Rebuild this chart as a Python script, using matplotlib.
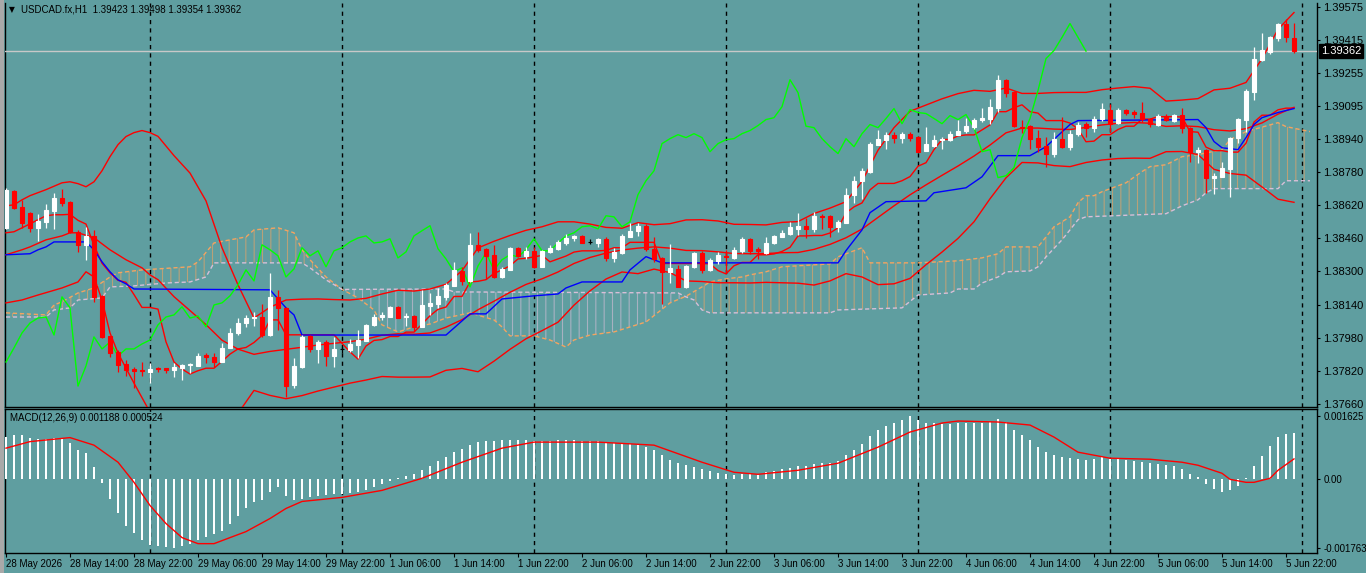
import numpy as np
import matplotlib
matplotlib.use('Agg')
import matplotlib.pyplot as plt
from matplotlib.patches import Polygon, Rectangle
from matplotlib.transforms import blended_transform_factory

# ---------------- data ----------------
opens = [1.38510,1.38689,1.38612,1.38583,1.38510,1.38539,1.38592,1.38655,1.38636,1.38491,
         1.38428,1.38471,1.38182,1.37989,1.37911,1.37853,1.37829,1.37824,1.37815,1.37834,
         1.37834,1.37824,1.37834,1.37848,1.37844,1.37897,1.37887,1.37863,1.37931,1.38003,
         1.38051,1.38075,1.38080,1.37993,1.38177,1.38124,1.37752,1.37839,1.37989,1.37926,
         1.37959,1.37892,1.37926,1.37921,1.37945,1.37964,1.38042,1.38080,1.38080,1.38129,
         1.38080,1.38085,1.38032,1.38133,1.38143,1.38177,1.38230,1.38302,1.38254,1.38428,
         1.38409,1.38380,1.38273,1.38307,1.38414,1.38375,1.38399,1.38322,1.38394,1.38409,
         1.38437,1.38461,1.38471,1.38442,1.38437,1.38457,1.38365,1.38389,1.38466,1.38496,
         1.38520,1.38409,1.38365,1.38298,1.38312,1.38225,1.38322,1.38389,1.38307,1.38351,
         1.38375,1.38365,1.38399,1.38457,1.38409,1.38389,1.38437,1.38466,1.38481,1.38505,
         1.38520,1.38505,1.38568,1.38568,1.38515,1.38534,1.38670,1.38737,1.38781,1.38911,
         1.38935,1.38959,1.38945,1.38964,1.38950,1.38882,1.38906,1.38935,1.38935,1.38959,
         1.38979,1.38998,1.39032,1.39037,1.39090,1.39224,1.39167,1.38998,1.39003,1.38945,
         1.38906,1.38868,1.38940,1.38901,1.38964,1.39012,1.38993,1.39037,1.39080,1.39017,
         1.39080,1.39070,1.39066,1.39037,1.39008,1.39051,1.39027,1.39056,1.38993,1.38877,
         1.38887,1.38752,1.38756,1.38795,1.38945,1.39032,1.39167,1.39321,1.39360,1.39423,
         1.39495,1.39423]
highs = [1.38703,1.38694,1.38645,1.38587,1.38578,1.38626,1.38679,1.38699,1.38638,1.38500,
         1.38515,1.38500,1.38184,1.37990,1.37921,1.37873,1.37839,1.37863,1.37858,1.37839,
         1.37836,1.37858,1.37853,1.37858,1.37906,1.37906,1.37906,1.37955,1.38027,1.38075,
         1.38090,1.38104,1.38143,1.38293,1.38211,1.38130,1.37882,1.37993,1.37993,1.37969,
         1.37969,1.37984,1.37935,1.37974,1.38017,1.38046,1.38095,1.38104,1.38133,1.38133,
         1.38100,1.38090,1.38211,1.38196,1.38220,1.38244,1.38346,1.38322,1.38486,1.38491,
         1.38414,1.38428,1.38322,1.38416,1.38418,1.38418,1.38418,1.38404,1.38428,1.38452,
         1.38481,1.38476,1.38473,1.38457,1.38459,1.38466,1.38414,1.38481,1.38534,1.38534,
         1.38529,1.38466,1.38370,1.38433,1.38331,1.38331,1.38394,1.38399,1.38365,1.38394,
         1.38404,1.38418,1.38466,1.38461,1.38418,1.38466,1.38476,1.38500,1.38539,1.38583,
         1.38558,1.38587,1.38578,1.38570,1.38549,1.38703,1.38761,1.38800,1.38926,1.38983,
         1.38974,1.38974,1.38974,1.38974,1.38952,1.38998,1.38959,1.38950,1.38979,1.39032,
         1.39041,1.39041,1.39090,1.39133,1.39249,1.39226,1.39169,1.39032,1.39008,1.38983,
         1.38950,1.38974,1.39046,1.38983,1.39022,1.39022,1.39051,1.39114,1.39109,1.39090,
         1.39085,1.39080,1.39119,1.39041,1.39061,1.39061,1.39061,1.39090,1.38995,1.38901,
         1.38892,1.38776,1.38829,1.38950,1.39041,1.39177,1.39380,1.39447,1.39433,1.39497,
         1.39515,1.39498]
lows = [1.38505,1.38602,1.38510,1.38491,1.38447,1.38510,1.38505,1.38616,1.38486,1.38394,
        1.38356,1.38153,1.37979,1.37887,1.37815,1.37795,1.37737,1.37795,1.37761,1.37815,
        1.37810,1.37790,1.37776,1.37810,1.37842,1.37858,1.37839,1.37861,1.37929,1.37993,
        1.38032,1.38036,1.37984,1.37989,1.38017,1.37694,1.37737,1.37834,1.37911,1.37858,
        1.37844,1.37839,1.37906,1.37911,1.37882,1.37962,1.38037,1.38066,1.38078,1.38073,
        1.38037,1.38013,1.38030,1.38090,1.38124,1.38162,1.38228,1.38235,1.38249,1.38394,
        1.38264,1.38270,1.38268,1.38305,1.38371,1.38360,1.38317,1.38320,1.38389,1.38404,
        1.38428,1.38447,1.38435,1.38433,1.38418,1.38351,1.38346,1.38384,1.38464,1.38471,
        1.38399,1.38346,1.38143,1.38244,1.38223,1.38220,1.38317,1.38293,1.38302,1.38336,
        1.38293,1.38360,1.38389,1.38384,1.38360,1.38384,1.38433,1.38464,1.38476,1.38476,
        1.38461,1.38491,1.38505,1.38466,1.38491,1.38532,1.38631,1.38650,1.38776,1.38909,
        1.38892,1.38921,1.38921,1.38930,1.38875,1.38880,1.38901,1.38892,1.38930,1.38957,
        1.38969,1.38988,1.39022,1.39012,1.39070,1.39143,1.38996,1.38969,1.38892,1.38877,
        1.38805,1.38853,1.38896,1.38887,1.38954,1.38950,1.38974,1.39027,1.38974,1.39012,
        1.39056,1.39041,1.39022,1.38998,1.39003,1.39027,1.39022,1.38969,1.38829,1.38824,
        1.38679,1.38674,1.38754,1.38660,1.38921,1.38974,1.39124,1.39312,1.39346,1.39413,
        1.39404,1.39354]
closes = [1.38694,1.38607,1.38534,1.38510,1.38544,1.38597,1.38655,1.38631,1.38491,1.38428,
          1.38471,1.38177,1.37984,1.37906,1.37848,1.37824,1.37820,1.37820,1.37829,1.37829,
          1.37824,1.37839,1.37848,1.37853,1.37892,1.37887,1.37863,1.37931,1.38003,1.38051,
          1.38075,1.38080,1.37993,1.38177,1.38124,1.37747,1.37844,1.37984,1.37926,1.37959,
          1.37892,1.37926,1.37926,1.37950,1.37969,1.38042,1.38080,1.38090,1.38129,1.38075,
          1.38085,1.38032,1.38138,1.38148,1.38182,1.38235,1.38307,1.38254,1.38428,1.38404,
          1.38375,1.38273,1.38312,1.38414,1.38375,1.38399,1.38322,1.38399,1.38414,1.38442,
          1.38461,1.38471,1.38437,1.38442,1.38457,1.38365,1.38394,1.38471,1.38496,1.38520,
          1.38409,1.38360,1.38298,1.38317,1.38225,1.38326,1.38389,1.38307,1.38356,1.38380,
          1.38370,1.38404,1.38457,1.38399,1.38399,1.38437,1.38471,1.38486,1.38515,1.38520,
          1.38505,1.38568,1.38563,1.38515,1.38539,1.38670,1.38737,1.38785,1.38916,1.38940,
          1.38959,1.38945,1.38964,1.38945,1.38877,1.38916,1.38935,1.38940,1.38964,1.38979,
          1.39003,1.39032,1.39041,1.39094,1.39224,1.39162,1.39000,1.38993,1.38940,1.38901,
          1.38868,1.38940,1.38901,1.38964,1.39008,1.38993,1.39037,1.39085,1.39012,1.39080,
          1.39066,1.39061,1.39037,1.39012,1.39051,1.39032,1.39056,1.38993,1.38877,1.38887,
          1.38752,1.38761,1.38800,1.38945,1.39037,1.39172,1.39326,1.39365,1.39428,1.39495,
          1.39428,1.39362]

# Bollinger bands (red), read at the bars listed
band_up_bars = [0, 1, 2, 3, 5, 7, 8, 9, 10, 11, 12, 13, 14, 15, 16, 17, 18] + list(range(19, 162, 2))
band_up_vals = [1.38616,1.38621,1.38645,1.38665,1.38694,1.38727,1.38732,1.38723,1.38708,1.38732,
                1.38785,1.38853,1.38911,1.38950,1.38969,1.38979,1.38969,
                1.38951,1.38858,1.38774,1.38640,1.38414,1.38235,1.38075,1.38127,1.38162,1.38166,
                1.38167,1.38164,1.38162,1.38170,1.38191,1.38209,1.38205,1.38215,1.38238,1.38303,
                1.38413,1.38445,1.38473,1.38498,1.38515,1.38539,1.38539,1.38528,1.38512,1.38508,
                1.38535,1.38525,1.38530,1.38548,1.38549,1.38543,1.38527,1.38526,1.38524,1.38536,
                1.38540,1.38579,1.38605,1.38636,1.38734,1.38884,1.38993,1.39072,1.39102,1.39132,
                1.39157,1.39173,1.39168,1.39184,1.39158,1.39158,1.39162,1.39163,1.39163,1.39176,
                1.39184,1.39191,1.39183,1.39121,1.39126,1.39133,1.39175,1.39183,1.39211,1.39325,
                1.39467,1.39548]
band_mid_bars = [0, 2, 3, 5, 7, 8, 9, 11, 13, 15, 17, 18] + list(range(19, 162, 2))
band_mid_vals = [1.38380,1.38404,1.38418,1.38452,1.38471,1.38486,1.38486,1.38462,1.38404,1.38356,
                 1.38317,1.38283,
                 1.38260,1.38178,1.38111,1.38043,1.37968,1.37925,1.37900,1.37914,1.37924,1.37934,
                 1.37945,1.37953,1.37961,1.37973,1.37992,1.37999,1.37997,1.38003,1.38031,1.38067,
                 1.38115,1.38156,1.38199,1.38237,1.38264,1.38297,1.38338,1.38367,1.38388,1.38403,
                 1.38412,1.38418,1.38412,1.38401,1.38400,1.38394,1.38386,1.38385,1.38386,1.38390,
                 1.38391,1.38406,1.38430,1.38462,1.38504,1.38560,1.38616,1.38669,1.38717,1.38763,
                 1.38808,1.38856,1.38909,1.38968,1.38991,1.38991,1.38986,1.38984,1.38994,1.39006,
                 1.39014,1.39018,1.39014,1.38999,1.39002,1.38998,1.38983,1.38977,1.38988,1.39016,
                 1.39058,1.39091]
band_lo_bars = [0, 2, 4, 7, 9, 10, 11, 12, 13, 14, 16, 18] + list(range(19, 162, 2))
band_lo_vals = [1.38148,1.38162,1.38186,1.38220,1.38249,1.38298,1.38273,1.38162,1.38003,1.37906,
                1.37761,1.37621,
                1.37569,1.37498,1.37448,1.37446,1.37523,1.37615,1.37726,1.37702,1.37686,1.37701,
                1.37723,1.37742,1.37761,1.37776,1.37793,1.37790,1.37790,1.37791,1.37823,1.37832,
                1.37816,1.37867,1.37924,1.37975,1.38014,1.38055,1.38137,1.38206,1.38263,1.38297,
                1.38289,1.38311,1.38294,1.38254,1.38251,1.38245,1.38245,1.38244,1.38247,1.38245,
                1.38243,1.38234,1.38254,1.38289,1.38273,1.38236,1.38240,1.38266,1.38332,1.38393,
                1.38459,1.38539,1.38650,1.38751,1.38825,1.38823,1.38810,1.38805,1.38825,1.38837,
                1.38844,1.38846,1.38845,1.38877,1.38878,1.38863,1.38792,1.38772,1.38764,1.38707,
                1.38648,1.38633]

# Tenkan-sen (red): value from each listed bar until the next listed bar
tenkan_bars = [0,1,2,3,4,5,6,7,8,9,
               10,11,12,13,14,15,16,17,19,20,
               21,22,23,24,25,27,28,29,30,31,
               32,33,35,42,43,44,45,46,47,48,
               50,52,53,54,55,56,58,59,60,61,
               62,63,64,65,66,67,68,69,70,71,
               72,75,76,78,82,88,89,90,91,92,
               94,96,97,98,99,101,103,104,105,106,
               107,108,109,112,113,114,115,116,117,119,
               120,122,123,124,126,127,128,129,130,133,
               134,135,136,137,139,140,142,144,147,148,
               149,150,151,153,155,156,157,159,160]
tenkan_vals = [1.38486,1.38491,1.38510,1.38529,1.38549,1.38568,1.38573,1.38573,1.38575,1.38546,
               1.38528,1.38426,1.38339,1.38293,1.38257,1.38247,1.38188,1.38126,1.38118,1.37960,
               1.37863,1.37829,1.37805,1.37821,1.37833,1.37866,1.37901,1.37926,1.37933,1.37957,
               1.37991,1.38066,1.37994,1.37953,1.37912,1.37877,1.37940,1.37967,1.37971,1.37986,
               1.38007,1.38046,1.38086,1.38117,1.38128,1.38179,1.38249,1.38252,1.38260,1.38290,
               1.38307,1.38327,1.38360,1.38363,1.38370,1.38377,1.38346,1.38360,1.38374,1.38393,
               1.38399,1.38401,1.38414,1.38440,1.38338,1.38336,1.38304,1.38288,1.38327,1.38343,
               1.38380,1.38384,1.38396,1.38416,1.38471,1.38473,1.38485,1.38510,1.38582,1.38611,
               1.38630,1.38693,1.38724,1.38737,1.38757,1.38807,1.38824,1.38887,1.38936,1.38953,
               1.38958,1.38982,1.39006,1.39070,1.39089,1.39103,1.39070,1.39063,1.39027,1.39015,
               1.38987,1.38925,1.38928,1.38959,1.38984,1.39000,1.39034,1.39046,1.39044,1.38974,
               1.38971,1.38899,1.38882,1.38875,1.38918,1.39020,1.39053,1.39079,1.39087]

# Kijun-sen (blue)
kijun_bars = [0,3,4,5,6,10,11,12,13,14,15,16,33,35,36,37,55,58,60,62,66,69,70,72,77,78,80,82,
              104,105,107,108,110,115,116,120,122,124,128,130,133,134,149,150,151,152,154,155,
              156,157,159,161]
kijun_vals = [1.38380,1.38385,1.38404,1.38418,1.38442,1.38442,1.38404,1.38346,1.38298,1.38259,
              1.38240,1.38215,1.38211,1.38124,1.38090,1.37993,1.37993,1.38095,1.38095,1.38167,
              1.38182,1.38191,1.38220,1.38249,1.38249,1.38307,1.38371,1.38341,1.38341,1.38400,
              1.38500,1.38583,1.38636,1.38640,1.38679,1.38703,1.38756,1.38858,1.38858,1.38901,
              1.39008,1.39027,1.39032,1.38993,1.38926,1.38896,1.38887,1.38945,1.39008,1.39041,
              1.39066,1.39085]

# Chikou span (lime): the closes drawn 26 bars back
chikou = closes[26:]

# Senkou spans (cloud), drawn 26 bars ahead
spanA_bars = [0,5,6,7,9,11,13,14,17,23,24,26,28,30,31,34,36,37,38,40,42,44,46,47,49,51,53,55,
              58,61,62,63,66,68,70,71,73,76,78,80,83,85,87,88,90,92,93,95,97,99,103,104,107,108,
              114,119,122,124,125,129,130,131,133,134,135,136,137,140,142,143,145,147,149,152,
              153,155,159,160,163]
spanA_vals = [1.38100,1.38090,1.38138,1.38153,1.38196,1.38220,1.38273,1.38293,1.38307,1.38322,
              1.38346,1.38437,1.38452,1.38466,1.38500,1.38510,1.38486,1.38404,1.38356,1.38273,
              1.38213,1.38172,1.38114,1.38042,1.38008,1.38032,1.38046,1.38075,1.38100,1.38066,
              1.38032,1.37989,1.37989,1.37969,1.37935,1.37969,1.37993,1.38008,1.38032,1.38056,
              1.38148,1.38180,1.38225,1.38249,1.38264,1.38273,1.38283,1.38298,1.38322,1.38327,
              1.38336,1.38370,1.38414,1.38341,1.38341,1.38351,1.38365,1.38385,1.38418,1.38418,
              1.38466,1.38515,1.38563,1.38631,1.38665,1.38665,1.38684,1.38727,1.38781,1.38805,
              1.38814,1.38853,1.38863,1.38887,1.38935,1.38974,1.39017,1.38998,1.38974]
spanB_bars = [0,5,6,8,9,12,13,16,20,23,25,26,37,38,40,42,55,56,84,85,86,87,88,103,104,112,114,
              118,119,121,122,124,125,128,129,130,132,133,134,135,145,146,147,149,150,151,159,
              160,163]
spanB_vals = [1.38080,1.38080,1.38114,1.38124,1.38162,1.38172,1.38225,1.38230,1.38244,1.38249,
              1.38273,1.38341,1.38341,1.38317,1.38259,1.38213,1.38215,1.38201,1.38196,1.38177,
              1.38162,1.38114,1.38100,1.38100,1.38114,1.38124,1.38186,1.38196,1.38215,1.38215,
              1.38244,1.38273,1.38298,1.38302,1.38322,1.38370,1.38452,1.38500,1.38549,1.38563,
              1.38578,1.38597,1.38616,1.38645,1.38679,1.38699,1.38699,1.38737,1.38737]

macd_main = [0.001091,0.001135,0.001135,0.001066,0.001032,0.001032,0.001066,0.001032,0.000937,0.000748,
             0.000663,0.000317,-0.000095,-0.000516,-0.000869,-0.001187,-0.001385,-0.001556,-0.001677,-0.001721,
             -0.001747,-0.001763,-0.001721,-0.001659,-0.001556,-0.001489,-0.001401,-0.001316,-0.001143,-0.000929,
             -0.000740,-0.000586,-0.000542,-0.000328,-0.000199,-0.000431,-0.000542,-0.000516,-0.000464,-0.000439,
             -0.000413,-0.000387,-0.000387,-0.000361,-0.000335,-0.000284,-0.000206,-0.000129,-0.000052,0.000026,
             0.000077,0.000129,0.000232,0.000335,0.000464,0.000568,0.000697,0.000774,0.000877,0.000955,
             0.000980,0.000980,0.001006,0.001006,0.001006,0.001006,0.000980,0.000980,0.000980,0.001006,
             0.001006,0.001006,0.000980,0.000980,0.000980,0.000929,0.000929,0.000929,0.000903,0.000877,
             0.000826,0.000748,0.000619,0.000490,0.000413,0.000361,0.000310,0.000258,0.000206,0.000155,
             0.000129,0.000103,0.000129,0.000129,0.000129,0.000181,0.000206,0.000258,0.000284,0.000335,
             0.000335,0.000387,0.000413,0.000413,0.000464,0.000619,0.000748,0.000903,0.001109,0.001264,
             0.001367,0.001445,0.001522,0.001625,0.001522,0.001445,0.001445,0.001419,0.001419,0.001445,
             0.001445,0.001445,0.001445,0.001471,0.001548,0.001471,0.001264,0.001135,0.001006,0.000826,
             0.000697,0.000619,0.000568,0.000542,0.000516,0.000490,0.000516,0.000568,0.000516,0.000516,
             0.000490,0.000464,0.000439,0.000413,0.000387,0.000361,0.000335,0.000258,0.000129,0.000052,
             -0.000129,-0.000258,-0.000335,-0.000284,-0.000181,0.000026,0.000335,0.000593,0.000851,0.001080,
             0.001160,0.001188]
signal_bars = [0,3,8,11,14,16,18,20,22,24,26,28,30,33,35,37,42,47,52,57,62,66,74,81,87,91,94,99,
               104,109,113,117,119,124,128,131,134,138,143,147,149,152,153,155,156,158,159,161]
signal_vals = [0.000800,0.000968,0.001071,0.000877,0.000439,-0.000077,-0.000671,-0.001135,-0.001496,
               -0.001651,-0.001651,-0.001496,-0.001342,-0.001006,-0.000748,-0.000568,-0.000464,-0.000284,
               0.000026,0.000439,0.000800,0.000955,0.000955,0.000877,0.000439,0.000181,0.000129,0.000232,
               0.000413,0.000826,0.001213,0.001445,0.001496,0.001471,0.001393,0.001084,0.000697,0.000542,
               0.000516,0.000439,0.000361,0.000155,0.000000,-0.000077,-0.000077,0.000026,0.000232,0.000524]

tick_bars = list(range(0, 161, 8))
tick_labels = ['28 May 2026', '28 May 14:00', '28 May 22:00', '29 May 06:00', '29 May 14:00',
               '29 May 22:00', '1 Jun 06:00', '1 Jun 14:00', '1 Jun 22:00', '2 Jun 06:00',
               '2 Jun 14:00', '2 Jun 22:00', '3 Jun 06:00', '3 Jun 14:00', '3 Jun 22:00',
               '4 Jun 06:00', '4 Jun 14:00', '4 Jun 22:00', '5 Jun 06:00', '5 Jun 14:00',
               '5 Jun 22:00']
separator_bars = [18, 42, 66, 90, 114, 138, 162]
price_ticks = [1.39575, 1.39415, 1.39255, 1.39095, 1.38940, 1.38780, 1.38620,
               1.38460, 1.38300, 1.38140, 1.37980, 1.37820, 1.37660]
macd_ticks = [0.001625, 0.0, -0.001763]
macd_tick_labels = ['0.001625', '0.00', '-0.001763']
last_price = 1.39362
symbol_text = 'USDCAD.fx,H1  1.39423 1.39498 1.39354 1.39362'
macd_title = 'MACD(12,26,9) 0.001188 0.000524'

# ---------------- figure ----------------
W, H = 1366, 573
BG = '#5F9EA0'
plt.rcParams['font.family'] = ['Liberation Sans', 'DejaVu Sans']
plt.rcParams['hatch.linewidth'] = 0.8
fig = plt.figure(figsize=(W / 100, H / 100), dpi=100)
fig.patch.set_facecolor(BG)

def fx(px):
    return px / W

def fy(py):
    return 1 - py / H

fig.add_artist(Rectangle((0, 0), fx(4), 1, transform=fig.transFigure,
                         facecolor='#A9A9A9', edgecolor='none'))

PLOT_W = 1312
ax = fig.add_axes([fx(5), fy(407), PLOT_W / W, 404 / H])
ax2 = fig.add_axes([fx(5), fy(553), PLOT_W / W, 144 / H])
for a in (ax, ax2):
    a.set_facecolor(BG)
    a.set_xlim(-0.125, (1317 - 6) / 8)
    for s in a.spines.values():
        s.set_color('black')
        s.set_linewidth(1.0)
    a.yaxis.tick_right()
    a.tick_params(axis='y', direction='out', length=2.5, width=0.8, colors='black', pad=2)
    for b in separator_bars:
        a.axvline(b, color='black', lw=1.0, ls=(0, (3, 3)), zorder=1)
ax.spines['top'].set_visible(False)

ax.set_ylim(1.37646, 1.39594)
ax.set_yticks(price_ticks)
ax.set_yticklabels(['%.5f' % v for v in price_ticks])
ax.tick_params(axis='y', labelsize=8)
ax.set_xticks([])

# Ichimoku cloud
def region(b0, b1):
    pa = [(b, v) for b, v in zip(spanA_bars, spanA_vals) if b0 <= b <= b1]
    pb = [(b, v) for b, v in zip(spanB_bars, spanB_vals) if b0 <= b <= b1]
    return pa + pb[::-1]

for (b0, b1, col) in [(0, 42, '#F4A460'), (42, 85, '#D8BFD8'), (85, 163, '#F4A460')]:
    poly = Polygon(region(b0, b1), closed=True, facecolor='none', edgecolor=col,
                   lw=0, hatch='||', alpha=0.6, zorder=2)
    ax.add_patch(poly)
ax.plot(spanA_bars, spanA_vals, color='#F4A460', lw=1.0, ls=(0, (3, 2)), zorder=3)
ax.plot(spanB_bars, spanB_vals, color='#D8BFD8', lw=1.0, ls=(0, (3, 2)), zorder=3)

ax.axhline(last_price, color='#C8C8C8', lw=1.0, zorder=3)

# bands and tenkan
for bb, bv in ((band_up_bars, band_up_vals), (band_mid_bars, band_mid_vals),
               (band_lo_bars, band_lo_vals)):
    ax.plot(bb, bv, color='#FF0000', lw=1.0, zorder=4)
n_bars = len(closes)
tx, ty = [], []
for i, (b, v) in enumerate(zip(tenkan_bars, tenkan_vals)):
    nb = tenkan_bars[i + 1] if i + 1 < len(tenkan_bars) else n_bars
    tx.append(b); ty.append(v)
    if nb - 1 > b:
        tx.append(nb - 1); ty.append(v)
ax.plot(tx, ty, color='#FF0000', lw=1.0, zorder=4)

ax.plot(kijun_bars, kijun_vals, color='#0000FF', lw=1.0, zorder=4)
ax.plot(np.arange(len(chikou)), chikou, color='#00FF00', lw=1.0, zorder=4)

# candles
xb = np.arange(n_bars)
o = np.array(opens); c = np.array(closes); hi = np.array(highs); lo = np.array(lows)
cols = np.where(c > o, 'white', np.where(c < o, '#FF0000', 'black'))
ax.vlines(xb, lo, hi, colors=cols, lw=0.9, zorder=5)
ax.bar(xb, c - o, bottom=o, width=0.5, color=cols, edgecolor=cols, lw=0.8, zorder=6)

trans = blended_transform_factory(ax.transAxes, ax.transData)
ax.text(1 + 4 / PLOT_W, last_price, '%.5f' % last_price, transform=trans, color='white',
        fontsize=8, va='center', ha='left',
        bbox=dict(facecolor='black', edgecolor='black', pad=1.4), zorder=10, clip_on=False)

# MACD
ax2.set_ylim(-0.001891, 0.001805)
ax2.bar(np.arange(len(macd_main)), macd_main, width=0.22, color='white', lw=0, zorder=3)
ax2.plot(signal_bars, signal_vals, color='#FF0000', lw=1.0, zorder=4)
ax2.set_yticks(macd_ticks)
ax2.set_yticklabels(macd_tick_labels)
ax2.tick_params(axis='y', labelsize=7)
ax2.set_xticks(tick_bars)
ax2.set_xticklabels(tick_labels)
ax2.tick_params(axis='x', direction='out', length=3, width=0.8, colors='black',
                labelsize=7, pad=1.5)
for t in ax2.get_xticklabels():
    t.set_ha('left')

fig.text(fx(9), fy(10), '\u25bc', fontsize=5.5, color='black', va='center', ha='left',
         family='DejaVu Sans')
fig.text(fx(21), fy(10), symbol_text, fontsize=7, color='black', va='center', ha='left')
fig.text(fx(10), fy(418), macd_title, fontsize=7, color='black', va='center', ha='left')

fig.savefig('out.png', dpi=100, facecolor=BG)
